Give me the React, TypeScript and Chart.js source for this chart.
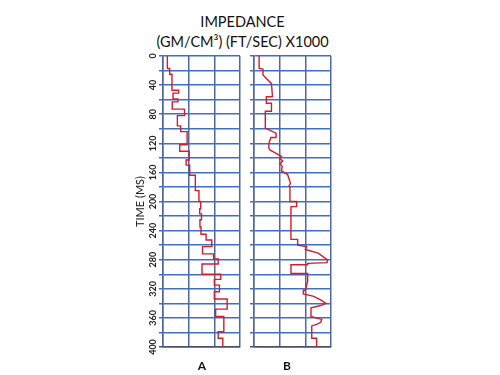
import { useEffect, useRef } from "react";
import { Chart, registerables } from "chart.js";

Chart.register(...registerables);

// ---- text ----
const TITLE_LINE_1 = "IMPEDANCE";
const TITLE_LINE_2 = "(GM/CM³) (FT/SEC) X1000";
const TIME_TITLE = "TIME (MS)";
const PANEL_NAMES = ["A", "B"];

// ---- axes ----
const TIME_MIN = 0;
const TIME_MAX = 400;
const TIME_GRID_STEP = 20;
const TIME_LABEL_STEP = 40;
const COLUMN_MIN = 0;
const COLUMN_MAX = 3;

// ---- panel A: blocky impedance log (layer top time, layer value) ----
const A_LAYER_TOP_MS = [
  0, 17, 25, 47, 51, 59, 63, 73, 82, 96, 104, 122, 131, 143, 150, 164, 185,
  200, 210, 217, 225, 235, 245, 253, 262, 272, 279, 286, 300, 307, 315, 324,
  334, 348, 358, 379, 388,
];
const A_LAYER_IMPEDANCE = [
  0.17, 0.26, 0.35, 0.61, 0.39, 0.58, 0.36, 0.84, 0.56, 0.69, 0.94, 0.65,
  1.02, 0.9, 1.04, 1.26, 1.4, 1.47, 1.43, 1.5, 1.44, 1.48, 1.68, 1.9, 1.54,
  1.97, 2.15, 1.52, 2.25, 2.0, 2.2, 2.0, 2.5, 2.05, 2.37, 2.15, 2.33,
];

// ---- panel B: smoother impedance log (vertices) ----
const B_TIME_MS = [
  0, 17, 18, 26, 38, 56, 56, 65, 65, 76, 76, 99, 106, 112, 112, 120, 127, 129,
  138, 141, 144, 148, 152, 158, 163, 175, 179, 180, 200, 200, 207, 207, 252,
  252, 260, 262, 266, 271, 280, 284, 285, 287, 287, 299, 299, 310, 322, 322,
  327, 330, 335, 340, 343, 346, 358, 362, 366, 369, 371, 388, 388, 400,
];
const B_IMPEDANCE = [
  0.2, 0.2, 0.35, 0.35, 0.68, 0.72, 0.48, 0.48, 0.68, 0.68, 0.44, 0.44, 0.86,
  0.86, 0.66, 0.58, 0.58, 0.62, 1.07, 1.0, 1.12, 1.02, 1.1, 1.07, 1.31, 1.42,
  1.36, 1.4, 1.4, 1.66, 1.66, 1.44, 1.44, 1.7, 1.7, 2.05, 2.0, 2.5, 2.85, 2.85,
  2.09, 2.09, 1.44, 1.44, 2.09, 2.09, 2.0, 1.92, 1.92, 2.3, 2.58, 2.8, 2.6,
  2.22, 2.22, 2.64, 2.6, 2.44, 2.25, 2.25, 2.44, 2.44,
];

const FONT = "Lato, 'Open Sans', sans-serif";
const H_GRID = "#3f6ec2";
const V_GRID = "#50689c";
const BOTTOM_EDGE = "#4b5268";
const LOG_RED = "#cf1f2c";

type Pt = { x: number; y: number };

function stepPoints(tops: number[], values: number[]): Pt[] {
  const pts: Pt[] = [];
  tops.forEach((t, i) => {
    const bottom = i + 1 < tops.length ? tops[i + 1] : TIME_MAX;
    pts.push({ x: values[i], y: t });
    pts.push({ x: values[i], y: bottom });
  });
  return pts;
}

function vertexPoints(times: number[], values: number[]): Pt[] {
  return times.map((t, i) => ({ x: values[i], y: t }));
}

function makeConfig(points: Pt[], withLabels: boolean, yWidth: number, rightPad: number): any {
  return {
    type: "scatter",
    data: {
      datasets: [
        {
          data: points,
          showLine: true,
          borderColor: LOG_RED,
          borderWidth: 1.4,
          pointRadius: 0,
          pointHoverRadius: 0,
          tension: 0,
          fill: false,
        },
      ],
    },
    options: {
      responsive: false,
      animation: false,
      devicePixelRatio: 1,
      layout: { padding: { top: 8, right: rightPad, bottom: 0, left: 0 } },
      plugins: { legend: { display: false }, tooltip: { enabled: false }, title: { display: false } },
      scales: {
        x: {
          type: "linear",
          position: "bottom",
          min: COLUMN_MIN,
          max: COLUMN_MAX,
          ticks: { display: false, stepSize: 1 },
          grid: { color: V_GRID, lineWidth: 1.5, drawTicks: false },
          border: { display: true, color: BOTTOM_EDGE, width: 1.6 },
          afterFit: (scale: any) => {
            scale.height = 33;
          },
        },
        y: {
          type: "linear",
          position: "left",
          reverse: true,
          min: TIME_MIN,
          max: TIME_MAX,
          ticks: {
            display: withLabels,
            stepSize: TIME_GRID_STEP,
            autoSkip: false,
            minRotation: 90,
            maxRotation: 90,
            crossAlign: "center",
            padding: -2,
            color: "#222",
            font: { family: FONT, size: 9, weight: "bold" },
            callback: (v: number) => (v % TIME_LABEL_STEP === 0 ? String(v) : ""),
          },
          grid: {
            color: (ctx: any) => (ctx.tick && ctx.tick.value === TIME_MAX ? BOTTOM_EDGE : H_GRID),
            lineWidth: 1.5,
            drawTicks: true,
            tickLength: 4,
          },
          border: { display: true, color: V_GRID, width: 1.5 },
          title: {
            display: withLabels,
            text: TIME_TITLE,
            color: "#222",
            font: { family: FONT, size: 11 },
            padding: { top: 14, bottom: 0 },
          },
          afterFit: (scale: any) => {
            scale.width = yWidth;
          },
        },
      },
    },
  };
}

export default function App() {
  const refA = useRef<HTMLCanvasElement>(null);
  const refB = useRef<HTMLCanvasElement>(null);

  useEffect(() => {
    const charts: Chart[] = [];
    if (refA.current) {
      charts.push(
        new Chart(refA.current, makeConfig(stepPoints(A_LAYER_TOP_MS, A_LAYER_IMPEDANCE), true, 43, 5))
      );
    }
    if (refB.current) {
      charts.push(new Chart(refB.current, makeConfig(vertexPoints(B_TIME_MS, B_IMPEDANCE), false, 14, 9)));
    }
    return () => charts.forEach((c) => c.destroy());
  }, []);

  const titleStyle: any = {
    position: "absolute",
    left: 0,
    width: 485,
    height: 20,
    lineHeight: "20px",
    textAlign: "center",
    fontFamily: FONT,
    fontSize: 14.5,
    color: "#111",
    whiteSpace: "nowrap",
  };
  const panelStyle: any = {
    position: "absolute",
    width: 40,
    height: 16,
    lineHeight: "16px",
    textAlign: "center",
    fontFamily: FONT,
    fontSize: 12,
    fontWeight: "bold",
    color: "#111",
  };

  return (
    <div
      style={{
        position: "absolute",
        left: 0,
        top: 0,
        width: 500,
        height: 375,
        background: "#fff",
        overflow: "hidden",
      }}
    >
      <div style={{ ...titleStyle, top: 12 }}>{TITLE_LINE_1}</div>
      <div style={{ ...titleStyle, top: 32 }}>{TITLE_LINE_2}</div>
      <canvas
        ref={refA}
        width={125}
        height={332}
        style={{ position: "absolute", left: 120, top: 48, width: 125, height: 332 }}
      />
      <canvas
        ref={refB}
        width={100}
        height={332}
        style={{ position: "absolute", left: 240, top: 48, width: 100, height: 332 }}
      />
      <div style={{ ...panelStyle, left: 182, top: 358 }}>{PANEL_NAMES[0]}</div>
      <div style={{ ...panelStyle, left: 267, top: 358 }}>{PANEL_NAMES[1]}</div>
    </div>
  );
}
